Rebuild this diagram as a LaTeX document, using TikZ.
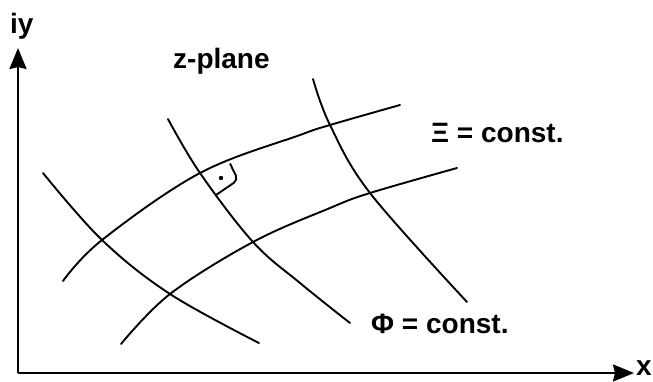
\documentclass[tikz,border=0pt]{standalone}
\usepackage{fontspec}
\setmainfont{Liberation Sans}
\usetikzlibrary{arrows.meta}
\tikzset{
  lbl/.style={font=\fontsize{28}{30}\selectfont\bfseries, inner sep=0pt, anchor=base west},
  curve/.style={line width=1.9pt, line cap=round},
  axis/.style={line width=2.2pt, -{Stealth[length=21pt,width=17pt,inset=2pt]}},
}
\begin{document}
\begin{tikzpicture}[x=1pt,y=-1pt]
\useasboundingbox (0,0) rectangle (653,381);
% axes
\coordinate (O) at (18,373);
\coordinate (ytip) at (18,48);
\coordinate (xtip) at (634,373);
\draw[axis] (O) -- (ytip);
\draw[axis] (O) -- (xtip);
\node[lbl] (iy) at (10,33) {iy};
\node[lbl] (xl) at (636,375) {x};
\node[lbl] (zp) at (173,68.5) {z-plane};
\node[lbl] (xi) at (431,142) {Ξ = const.};
\node[lbl] (phi) at (371,333) {Φ = const.};
% Xi = const curves
\draw[curve] plot[smooth, tension=0.6] coordinates {(63,281) (102,240) (200,173) (300,135) (330,125) (400,105)};
\draw[curve] plot[smooth, tension=0.6] coordinates {(121,344) (170,294) (253,242) (330,208) (370,193) (457,168)};
% Phi = const curves
\draw[curve] plot[smooth, tension=0.6] coordinates {(43,173) (102,240) (170,294) (259,343)};
\draw[curve] plot[smooth, tension=0.6] coordinates {(168,119) (200,173) (253,242) (300,283) (350,323)};
\draw[curve] plot[smooth, tension=0.6] coordinates {(313,79) (330,125) (370,193) (467,302)};
% right-angle marker
\draw[line width=1.9pt, rounded corners=5pt] (230,163.5) -- (238,180) -- (216,195);
\fill (221,178) circle (2.2pt);
\end{tikzpicture}
\end{document}
